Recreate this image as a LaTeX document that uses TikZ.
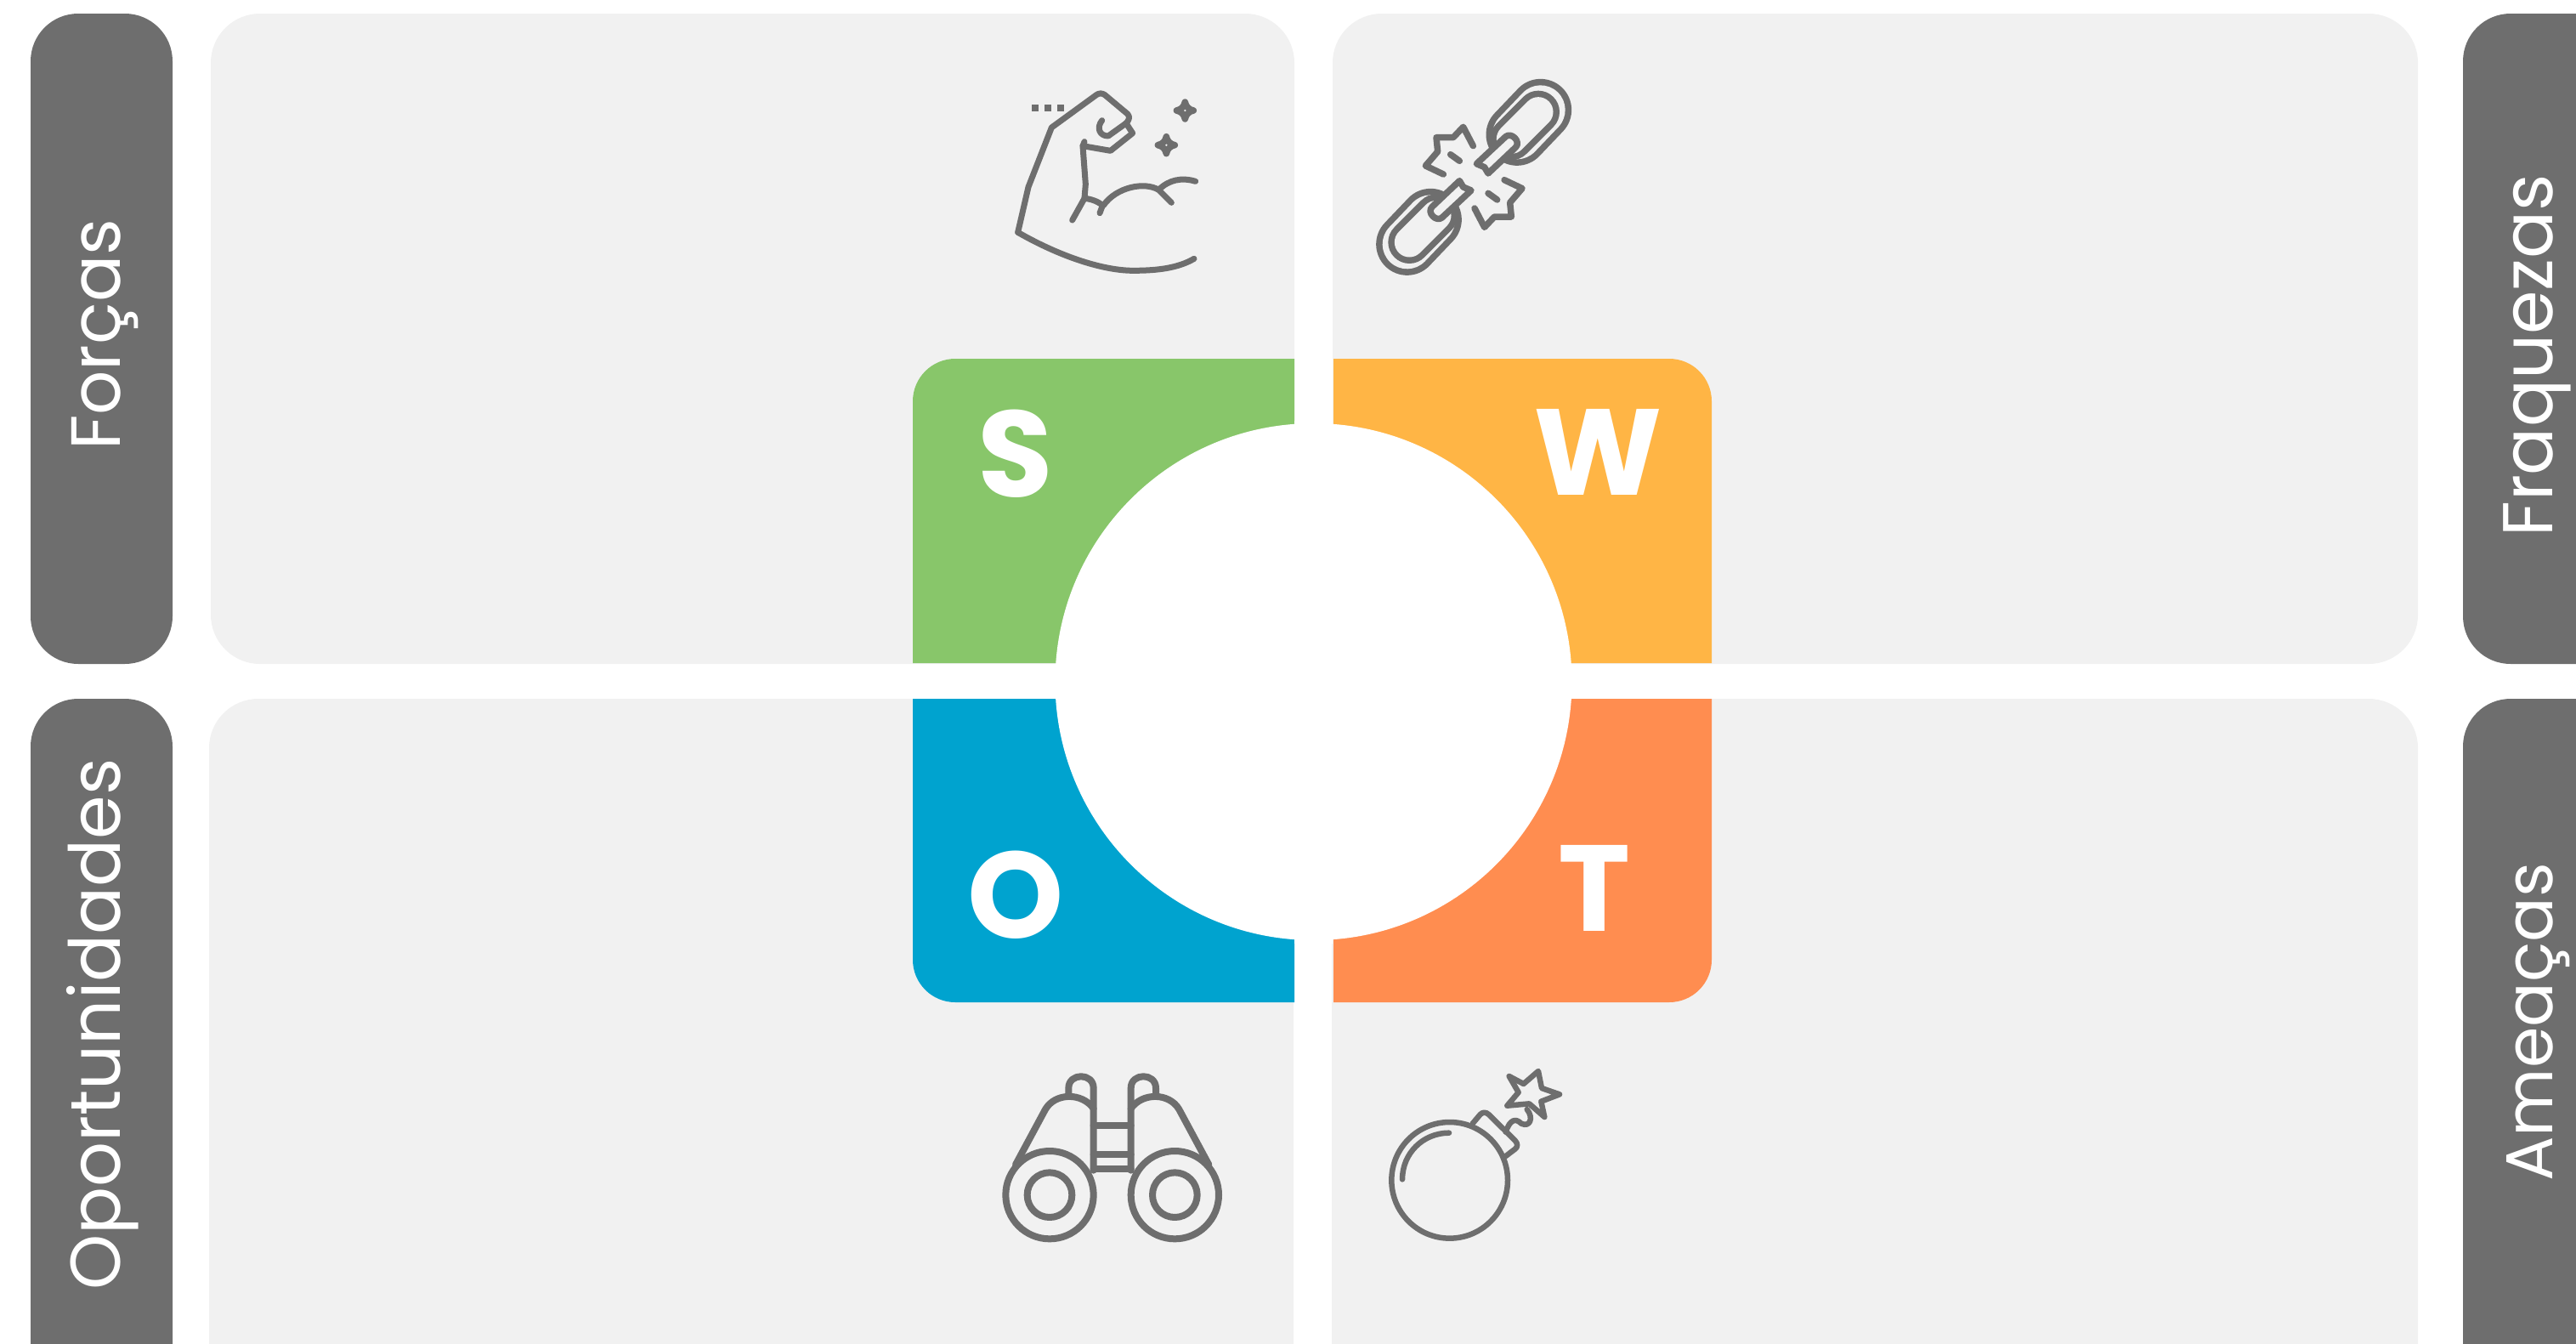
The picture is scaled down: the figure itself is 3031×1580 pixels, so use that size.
\documentclass[tikz,border=0pt]{standalone}
\usepackage{fontspec}
\setmainfont{Poppins}
\newfontfamily\labfont{Poppins}
\newfontfamily\letfont{Poppins Bold}
\definecolor{panelgray}{HTML}{F1F1F1}
\definecolor{pillgray}{HTML}{6E6E6E}
\definecolor{swotS}{HTML}{88C66A}
\definecolor{swotW}{HTML}{FFB545}
\definecolor{swotO}{HTML}{00A3CF}
\definecolor{swotT}{HTML}{FF8D50}
\tikzset{
  panel/.style={fill=panelgray,rounded corners=58pt},
  pill/.style={fill=pillgray,rounded corners=56pt},
  sidelabel/.style={text=white,rotate=90,anchor=base west,inner sep=0pt,font=\labfont\fontsize{#1}{90}\selectfont},
  letter/.style={text=white,anchor=base,inner sep=0pt,font=\letfont\fontsize{144}{150}\selectfont},
  icon/.style={draw=pillgray,line width=#1,line cap=round,line join=round,fill=none},
  icon/.default=7.5pt,
}
\newcommand{\stadium}[4]{%
  \draw[pillgray,line cap=round,line width=#3pt] #1 -- #2;
  \draw[panelgray,line cap=round,line width=#4pt] #1 -- #2;
}
\newcommand{\chainhalf}{%
  \stadium{(585,295)}{(668,208)}{73}{58}
  \stadium{(565,310)}{(660,215)}{50}{35}
  \draw[icon,fill=panelgray] (442,398) -- (545,302) .. controls (565,285) and (600,320) .. (580,340) -- (483,432) -- (470,410) -- cycle;
  \draw[icon] (430,335) -- (395,268) -- (360,305) -- (300,305) -- (305,355) -- (262,405) -- (325,435);
  \draw[icon] (350,365) -- (382,388);
}
\newcommand{\sparkle}[1]{%
  \draw[icon=7.5pt,fill=panelgray,shift={#1}] (0,-30) .. controls (3,-14) and (14,-3) .. (30,0) .. controls (14,3) and (3,14) .. (0,30) .. controls (-3,14) and (-14,3) .. (-30,0) .. controls (-14,-3) and (-3,-14) .. (0,-30) -- cycle;
}
\begin{document}
\begin{tikzpicture}[x=1pt,y=-1pt]
\useasboundingbox (0,0) rectangle (3031,1580);
\clip (0,0) rectangle (3031,1580);
\fill[white] (0,0) rectangle (3031,1580);
% panels
\fill[panel] (248,16) rectangle (1523,781);
\fill[panel] (1568,16) rectangle (2845,781);
\fill[panel] (246,822) rectangle (1522,1700);
\fill[panel] (1567,822) rectangle (2845,1700);
% pills
\fill[pill] (36,16) rectangle (203,781);
\fill[pill] (36,822) rectangle (203,1700);
\fill[pill] (2898,16) rectangle (3200,781);
\fill[pill] (2898,822) rectangle (3200,1700);
% quadrants
\fill[swotS] (1523,780) -- (1074,780) [rounded corners=50pt] -- (1074,422) [sharp corners] -- (1523,422) -- cycle;
\fill[swotW] (1569,780) -- (2014,780) [rounded corners=50pt] -- (2014,422) [sharp corners] -- (1569,422) -- cycle;
\fill[swotO] (1523,822) -- (1074,822) [rounded corners=50pt] -- (1074,1179) [sharp corners] -- (1523,1179) -- cycle;
\fill[swotT] (1569,822) -- (2014,822) [rounded corners=50pt] -- (2014,1179) [sharp corners] -- (1569,1179) -- cycle;
\fill[white] (1545.5,802) circle[radius=304];
\fill[white] (1523,495) rectangle (1568,1110);
% letters
\node[letter] (ls) at (1195,584) {S};
\node[letter] (lw) at (1880,582) {W};
\node[letter] (lo) at (1195,1103) {O};
\node[letter] (lt) at (1876,1095) {T};
% side labels
\node[sidelabel=82] (forcas) at (141,530) {Forças};
\node[sidelabel=83] (fraquezas) at (3003,632) {Fraquezas};
\node[sidelabel=83] (oport) at (141,1518) {Oportunidades};
\node[sidelabel=78] (ameacas) at (3003,1390) {Ameaças};
% muscle icon
\begin{scope}[shift={(1150,60)},scale=1/3]
  \draw[icon=7pt] (143,640) -- (180,480) -- (262,270) -- (420,155) .. controls (430,148) and (440,148) .. (450,155) -- (530,222) .. controls (540,232) and (535,245) .. (525,255) -- (548,290) -- (470,352) -- (372,335);
  \draw[icon=7pt] (378,320) -- (372,335) -- (382,470) -- (378,520) -- (335,597);
  \draw[icon=7pt] (378,520) .. controls (400,522) and (425,530) .. (442,545) -- (432,572);
  \draw[icon=7pt] (445,545) .. controls (490,480) and (590,460) .. (640,490) -- (685,535);
  \draw[icon=7pt] (640,490) .. controls (675,455) and (720,445) .. (770,460);
  \draw[icon=7pt] (143,640) .. controls (300,730) and (450,775) .. (550,775) .. controls (640,775) and (710,765) .. (765,733);
  \draw[icon=7pt] (440,245) .. controls (420,270) and (430,300) .. (462,300) -- (525,255);
  \fill[pillgray] (193,188) rectangle (217,212);
  \fill[pillgray] (238,188) rectangle (262,212);
  \fill[pillgray] (281,188) rectangle (305,212);
  \sparkle{(733,210)}
  \sparkle{(667,332)}
\end{scope}
% chain icon
\begin{scope}[shift={(1590,60)},scale=1/3]
  \chainhalf
  \begin{scope}[shift={(865,890)},scale=-1]
    \chainhalf
  \end{scope}
\end{scope}
% binoculars icon
\begin{scope}[shift={(1150,1230)},scale=1/3]
  \foreach \s/\o in {1/0,-1/952}{
    \begin{scope}[shift={(\o,0)},xscale=\s]
      \draw[icon=8pt] (135,420) -- (240,225) .. controls (275,165) and (370,165) .. (410,222);
      \draw[icon=8pt] (322,170) -- (322,150) .. controls (322,95) and (410,95) .. (410,150) -- (410,440);
      \draw[icon=8pt] (255,527) circle[radius=155];
      \draw[icon=8pt] (255,527) circle[radius=79];
    \end{scope}
  }
  \draw[icon=8pt] (410,282) -- (542,282);
  \draw[icon=8pt] (410,385) -- (542,385);
  \draw[icon=8pt] (410,436) -- (542,436);
\end{scope}
% bomb icon
\begin{scope}[shift={(1600,1230)},scale=1/3]
  \draw[icon=6.5pt] (317,475) circle[radius=205];
  \draw[icon=6.5pt] (315,308) .. controls (223,308) and (150,380) .. (150,472);
  \draw[icon=6.5pt] (398,275) -- (425,243) .. controls (432,235) and (445,233) .. (455,243) -- (548,335) .. controls (558,345) and (558,358) .. (548,365) -- (515,390);
  \draw[icon=6.5pt] (515,305) .. controls (530,260) and (550,255) .. (570,275) .. controls (600,290) and (615,255) .. (590,225);
  \draw[icon=6.5pt] (527,108) -- (578,135) -- (630,90) -- (642,150) -- (705,172) -- (640,197) -- (652,252) -- (598,205) -- (520,212) -- (560,165) -- cycle;
\end{scope}
\end{tikzpicture}
\end{document}
